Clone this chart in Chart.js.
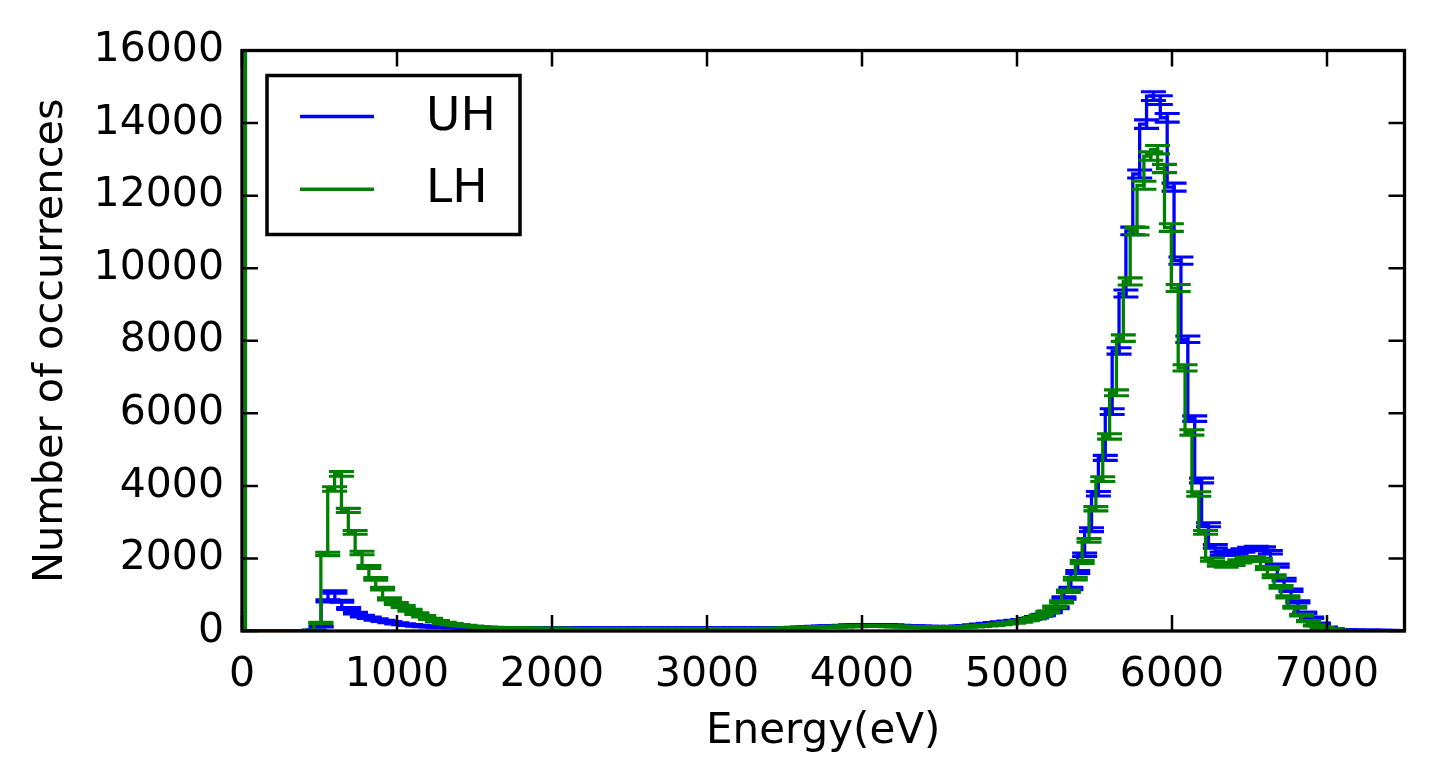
<!DOCTYPE html>
<html>
<head>
<meta charset="utf-8">
<title>Energy histogram UH / LH</title>
<script src="https://cdn.jsdelivr.net/npm/chart.js@4.4.0/dist/chart.umd.min.js"></script>
<style>
  html, body { margin: 0; padding: 0; background: #ffffff; }
  #contenedor { width: 1434px; height: 783px; }
</style>
</head>
<body>
<div id="contenedor"><canvas id="histograma"></canvas></div>
<script>
// histogramas de energia: 169 bins por serie, cada uno desde 0 eV hasta su maximo
const nBins = 169;
const uhMaxEnergy = 7500;
const lhMaxEnergy = 7478;

const xTicks = [0, 1000, 2000, 3000, 4000, 5000, 6000, 7000];
const yTicks = [0, 2000, 4000, 6000, 8000, 10000, 12000, 14000, 16000];

// cuentas por bin, 10 bins por fila
const uhCounts = [
  60000, 0, 0, 0, 0, 0, 0, 0, 0, 3,
  20, 120, 830, 1075, 820, 620, 490, 410, 363, 316,
  280, 242, 210, 185, 165, 145, 132, 122, 114, 108,
  102, 98, 95, 92, 90, 88, 86, 85, 84, 83,
  82, 82, 81, 80, 80, 79, 78, 78, 77, 77,
  76, 76, 75, 75, 74, 74, 73, 73, 72, 72,
  72, 71, 71, 70, 70, 70, 70, 70, 71, 71,
  70, 70, 71, 71, 72, 73, 75, 78, 82, 87,
  93, 100, 108, 116, 124, 132, 140, 148, 155, 160,
  164, 166, 165, 162, 156, 148, 140, 132, 125, 120,
  116, 114, 113, 120, 128, 140, 155, 175, 200, 220,
  240, 258, 275, 300, 335, 380, 440, 530, 640, 910,
  1170, 1627, 2104, 2791, 3782, 4772, 6046, 7720, 9301, 11028,
  12596, 13971, 14742, 14631, 14146, 12235, 10209, 8040, 5853, 4148,
  2929, 2333, 2131, 2150, 2180, 2220, 2260, 2290, 2270, 2170,
  1801, 1416, 1123, 803, 500, 363, 206, 100, 55, 35,
  25, 20, 18, 16, 15, 14, 13, 12, 12
];

const lhCounts = [
  60000, 0, 0, 0, 0, 0, 0, 0, 0, 0,
  15, 225, 2123, 3914, 4330, 3323, 2718, 2150, 1765, 1435,
  1169, 885, 760, 673, 572, 481, 408, 335, 270, 225,
  190, 165, 145, 128, 114, 102, 92, 85, 80, 76,
  73, 71, 69, 68, 67, 66, 65, 64, 63, 62,
  60, 60, 59, 59, 58, 58, 57, 57, 57, 56,
  56, 56, 55, 55, 55, 55, 55, 56, 56, 56,
  57, 57, 58, 58, 59, 60, 62, 64, 67, 71,
  80, 85, 91, 98, 105, 112, 118, 124, 129, 133,
  136, 138, 138, 136, 132, 126, 120, 114, 108, 104,
  100, 98, 98, 100, 106, 114, 124, 136, 150, 166,
  186, 210, 232, 262, 300, 350, 420, 517, 665, 803,
  1095, 1444, 1903, 2497, 3369, 4186, 5363, 6565, 8072, 9634,
  11020, 12285, 13091, 13265, 12748, 11120, 9453, 7252, 5473, 3777,
  2718, 1966, 1829, 1800, 1850, 1920, 1980, 2010, 1960, 1738,
  1508, 1215, 940, 656, 436, 270, 151, 88, 45, 22,
  12, 8, 6, 5, 4, 3, 3, 2, 2
];

const azul = '#0000ff';
const verde = '#008000';

// centro de cada bin
function centros(cuentas, maxE) {
  const ancho = maxE / nBins;
  return cuentas.map((v, k) => (k + 0.5) * ancho);
}

// puntos del escalon
function puntosLinea(cuentas, maxE) {
  const xs = centros(cuentas, maxE);
  return cuentas.map((v, k) => ({ x: xs[k], y: v }));
}

// barras de error: tope superior, tope inferior y barra vertical (v +/- sqrt(v))
function puntosError(cuentas, maxE) {
  const xs = centros(cuentas, maxE);
  const pts = [];
  cuentas.forEach((v, k) => {
    if (v > 16000) return;
    const e = Math.sqrt(v);
    pts.push({ x: xs[k], y: v + e, tipo: 'tope' });
    pts.push({ x: xs[k], y: v - e, tipo: 'tope' });
    pts.push({ x: xs[k], y: v, tipo: 'barra', err: e });
  });
  return pts;
}

// largo en pixeles de media barra de error
function radioError(ctx) {
  const p = ctx.raw;
  if (!p || p.tipo !== 'barra') return 12.5;
  const y = ctx.chart.scales.y;
  if (!y) return 0;
  return Math.abs(y.getPixelForValue(p.y) - y.getPixelForValue(p.y + p.err));
}

function datasetTopes(cuentas, maxE, color, orden) {
  return {
    label: '',
    data: puntosError(cuentas, maxE),
    showLine: false,
    pointStyle: 'line',
    pointRadius: radioError,
    pointRotation: (ctx) => (ctx.raw && ctx.raw.tipo === 'barra' ? 90 : 0),
    pointBorderWidth: (ctx) => (ctx.raw && ctx.raw.tipo === 'barra' ? 3.3 : 3.1),
    pointBorderColor: color,
    pointBackgroundColor: color,
    borderColor: color,
    order: orden,
  };
}

function datasetEscalon(nombre, cuentas, maxE, color, orden) {
  return {
    label: nombre,
    enLeyenda: true,
    data: puntosLinea(cuentas, maxE),
    stepped: 'after',
    borderColor: color,
    borderWidth: 3.3,
    pointRadius: 0,
    fill: false,
    order: orden,
  };
}

// marco, ticks hacia adentro y leyenda al estilo matplotlib
const marcoPlugin = {
  id: 'marcoPlugin',
  afterDatasetsDraw(chart) {
    const { ctx, chartArea: a, scales: { x, y } } = chart;
    ctx.save();
    ctx.strokeStyle = '#000';
    ctx.lineWidth = 2.5;
    ctx.beginPath();
    xTicks.forEach(t => {
      const px = x.getPixelForValue(t);
      ctx.moveTo(px, a.bottom); ctx.lineTo(px, a.bottom - 16);
      ctx.moveTo(px, a.top); ctx.lineTo(px, a.top + 16);
    });
    yTicks.forEach(t => {
      const py = y.getPixelForValue(t);
      ctx.moveTo(a.left, py); ctx.lineTo(a.left + 16, py);
      ctx.moveTo(a.right, py); ctx.lineTo(a.right - 16, py);
    });
    ctx.stroke();
    ctx.lineWidth = 3.3;
    ctx.strokeRect(a.left, a.top, a.right - a.left, a.bottom - a.top);

    // leyenda
    const bx = a.left + 25, by = a.top + 25;
    const bw = 253, bh = 159;
    ctx.fillStyle = '#fff';
    ctx.fillRect(bx, by, bw, bh);
    ctx.lineWidth = 3.5;
    ctx.strokeRect(bx, by, bw, bh);
    const series = chart.data.datasets.filter(d => d.enLeyenda);
    series.sort((p, q) => q.order - p.order);
    ctx.font = "47px 'DejaVu Sans'";
    ctx.textBaseline = 'middle';
    ctx.textAlign = 'left';
    series.forEach((d, i) => {
      const ly = by + 41 + i * 72.7;
      ctx.strokeStyle = d.borderColor;
      ctx.lineWidth = 3.5;
      ctx.beginPath();
      ctx.moveTo(bx + 33, ly);
      ctx.lineTo(bx + 107, ly);
      ctx.stroke();
      ctx.fillStyle = '#000';
      ctx.fillText(d.label, bx + 159, ly + 1);
    });
    ctx.restore();
  }
};

Chart.defaults.font.family = "'DejaVu Sans'";
Chart.defaults.font.size = 41;
Chart.defaults.color = '#000';

const histograma = new Chart(document.getElementById('histograma'), {
  type: 'line',
  data: {
    datasets: [
      datasetEscalon('UH', uhCounts, uhMaxEnergy, azul, 4),
      datasetTopes(uhCounts, uhMaxEnergy, azul, 3),
      datasetEscalon('LH', lhCounts, lhMaxEnergy, verde, 2),
      datasetTopes(lhCounts, lhMaxEnergy, verde, 1),
    ]
  },
  options: {
    responsive: true,
    maintainAspectRatio: false,
    animation: false,
    events: [],
    layout: { padding: { top: 50.5, right: 29.5, left: 0, bottom: 0 } },
    plugins: {
      legend: { display: false },
      tooltip: { enabled: false },
    },
    scales: {
      x: {
        type: 'linear',
        min: 0,
        max: 7500,
        grid: { display: false },
        border: { display: false },
        afterFit: (s) => { s.height = 152; },
        afterBuildTicks: (s) => { s.ticks = xTicks.map(v => ({ value: v })); },
        ticks: {
          autoSkip: false,
          maxRotation: 0,
          padding: 12,
          callback: (v) => String(v),
        },
        title: {
          display: true,
          text: 'Energy(eV)',
          font: { size: 42 },
          padding: { top: 0, bottom: 26 },
        },
      },
      y: {
        type: 'linear',
        min: 0,
        max: 16000,
        grid: { display: false },
        border: { display: false },
        afterFit: (s) => { s.width = 242; },
        afterBuildTicks: (s) => { s.ticks = yTicks.map(v => ({ value: v })); },
        ticks: {
          autoSkip: false,
          padding: 10,
          callback: (v) => String(v),
        },
        title: {
          display: true,
          text: 'Number of occurrences',
          font: { size: 41.5 },
          padding: { top: 26, bottom: 0 },
        },
      },
    },
  },
  plugins: [marcoPlugin],
});
</script>
</body>
</html>
